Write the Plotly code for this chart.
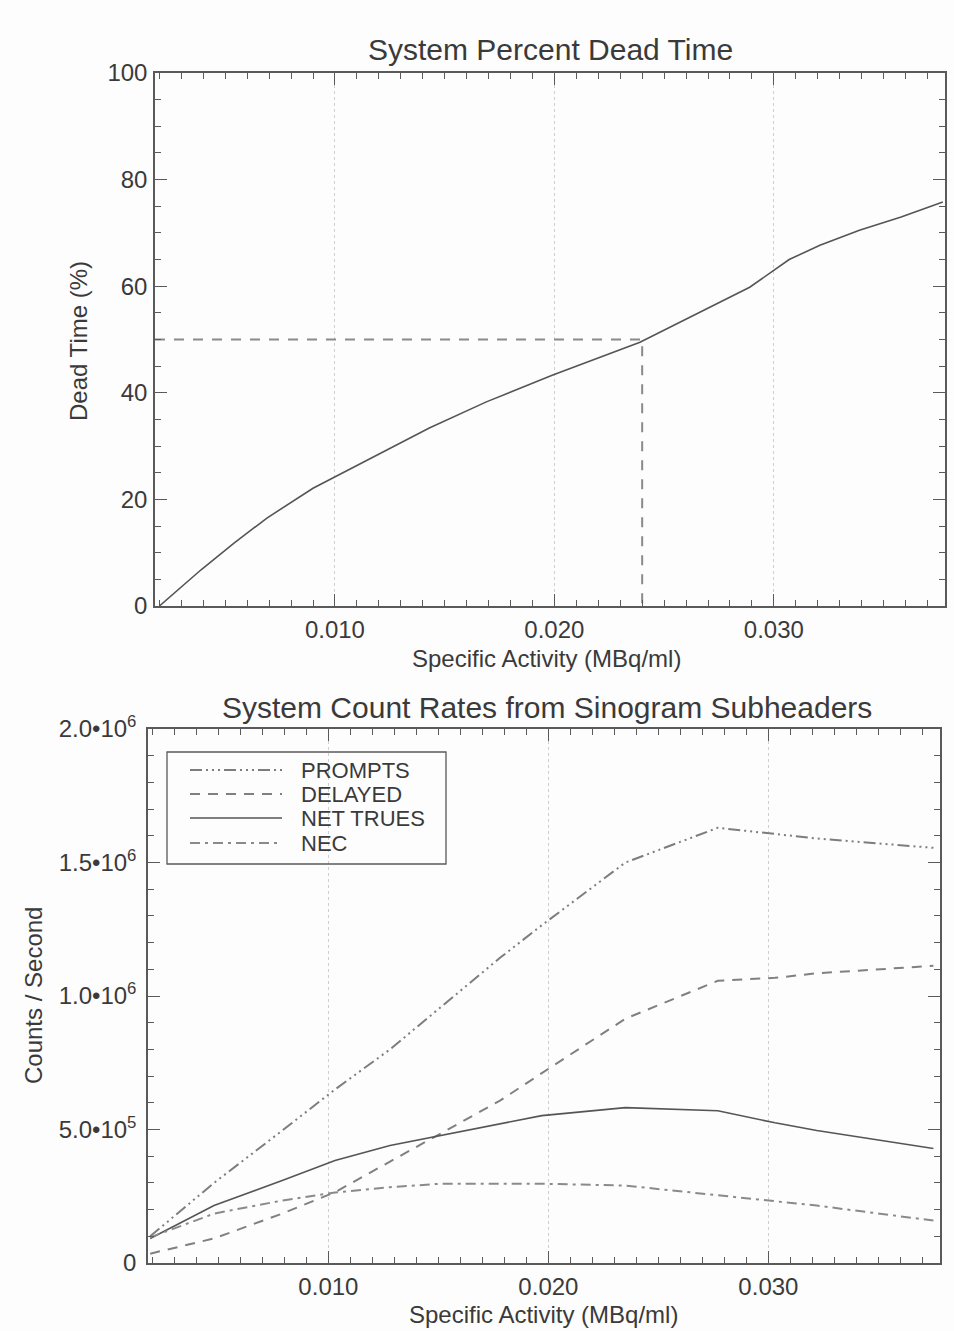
import plotly.graph_objects as go

W, H = 954, 1331

# ---------------- data ----------------
# Top panel: system percent dead time
dt_activity = [0.0020, 0.0039, 0.0054, 0.0069, 0.0090, 0.0112, 0.0121, 0.0143,
               0.0169, 0.0199, 0.0239, 0.0266, 0.0289, 0.0307, 0.0321, 0.0339,
               0.0358, 0.0377]
dt_percent = [0.0, 6.8, 11.8, 16.5, 22.1, 26.8, 28.7, 33.4,
              38.3, 43.3, 49.5, 55.0, 59.8, 65.0, 67.7, 70.5,
              73.0, 75.8]
dead_time_ref = 50
activity_at_ref = 0.024

# Bottom panel: count rates
activity = [0.0019, 0.0048, 0.0079, 0.0103, 0.0128, 0.0151, 0.0178,
            0.0197, 0.0235, 0.0277, 0.0303, 0.0322, 0.0375]
prompts = [100e3, 300e3, 496e3, 650e3, 800e3, 958e3, 1143e3,
           1265e3, 1500e3, 1630e3, 1607e3, 1590e3, 1555e3]
delayed = [35e3, 92e3, 185e3, 265e3, 380e3, 484e3, 608e3,
           711e3, 915e3, 1057e3, 1068e3, 1085e3, 1113e3]
net_trues = [92e3, 215e3, 309e3, 384e3, 440e3, 477e3, 521e3,
             552e3, 582e3, 570e3, 525e3, 496e3, 429e3]
nec = [96e3, 185e3, 234e3, 264e3, 284e3, 297e3, 297e3,
       297e3, 290e3, 253e3, 230e3, 215e3, 159e3]

series_names = ["PROMPTS", "DELAYED", "NET TRUES", "NEC"]

x_range = [0.0018, 0.0378]
x_ticks = [0.010, 0.020, 0.030]
x_tick_labels = ["0.010", "0.020", "0.030"]
dt_ticks = [0, 20, 40, 60, 80, 100]
dt_tick_labels = ["0", "20", "40", "60", "80", "100"]
rate_ticks = [0, 5e5, 1e6, 1.5e6, 2e6]
rate_tick_labels = ["0", "5.0•10<sup>5</sup>", "1.0•10<sup>6</sup>",
                    "1.5•10<sup>6</sup>", "2.0•10<sup>6</sup>"]

# ---------------- styling ----------------
FONT = "Liberation Sans, Arial, sans-serif"
TXT = "#3a3a3a"
AX = "#5a5a5a"

styles = {
    "PROMPTS": dict(color="#7d7d7d", width=2, dash="12px,4px,2px,4px,2px,4px,2px,4px"),
    "DELAYED": dict(color="#808080", width=2, dash="10px,8px"),
    "NET TRUES": dict(color="#555555", width=1.6, dash="solid"),
    "NEC": dict(color="#8a8a8a", width=2, dash="10px,5px,3px,5px"),
}


def fx(px):
    return px / W


def fy(py):
    return 1 - py / H


fig = go.Figure()

# top panel
fig.add_trace(go.Scatter(x=[x_range[0], activity_at_ref, activity_at_ref],
                         y=[dead_time_ref, dead_time_ref, 0],
                         mode="lines", xaxis="x", yaxis="y", showlegend=False,
                         line=dict(color="#8a8a8a", width=2, dash="10px,9px")))
fig.add_trace(go.Scatter(x=dt_activity, y=dt_percent, mode="lines",
                         xaxis="x", yaxis="y", showlegend=False,
                         line=dict(color="#555555", width=1.6)))

# bottom panel
for name, vals in zip(series_names, [prompts, delayed, net_trues, nec]):
    fig.add_trace(go.Scatter(x=activity, y=vals, mode="lines", name=name,
                             xaxis="x2", yaxis="y2", showlegend=False,
                             line=styles[name]))

common_x = dict(
    range=x_range, tickvals=x_ticks, ticktext=x_tick_labels,
    ticks="inside", ticklen=12, tickwidth=1.2, tickcolor=AX,
    showline=True, linecolor=AX, linewidth=1.5, mirror="ticks",
    showgrid=True, gridcolor="#cfcfcf", griddash="dot", gridwidth=1,
    zeroline=False, automargin=False,
    minor=dict(dtick=0.001, tick0=0, ticks="inside", ticklen=6,
               tickcolor=AX, tickwidth=1, showgrid=False),
    tickfont=dict(family=FONT, size=24, color=TXT),
    ticklabelstandoff=1,
)

top_dom_x = [fx(155), fx(945)]
top_dom_y = [fy(606), fy(73)]
bot_dom_x = [fx(148), fx(940)]
bot_dom_y = [fy(1263), fy(729)]

layout = dict(
    width=W, height=H,
    margin=dict(l=0, r=0, t=0, b=0, autoexpand=False),
    paper_bgcolor="#fdfdfd", plot_bgcolor="#fdfdfd",
    showlegend=False,
    xaxis=dict(common_x, domain=top_dom_x, anchor="y"),
    yaxis=dict(
        domain=top_dom_y, anchor="x", range=[0, 100],
        tickvals=dt_ticks, ticktext=dt_tick_labels,
        ticks="inside", ticklen=12, tickwidth=1.2, tickcolor=AX,
        showline=True, linecolor=AX, linewidth=1.5, mirror="ticks",
        showgrid=False, zeroline=False, automargin=False,
        minor=dict(dtick=5, tick0=0, ticks="inside", ticklen=6,
                   tickcolor=AX, tickwidth=1, showgrid=False),
        tickfont=dict(family=FONT, size=24, color=TXT),
        ticklabelstandoff=1,
    ),
    xaxis2=dict(common_x, domain=bot_dom_x, anchor="y2"),
    yaxis2=dict(
        domain=bot_dom_y, anchor="x2", range=[0, 2e6],
        tickvals=rate_ticks, ticktext=rate_tick_labels,
        ticks="inside", ticklen=12, tickwidth=1.2, tickcolor=AX,
        showline=True, linecolor=AX, linewidth=1.5, mirror="ticks",
        showgrid=False, zeroline=False, automargin=False,
        minor=dict(dtick=1e5, tick0=0, ticks="inside", ticklen=6,
                   tickcolor=AX, tickwidth=1, showgrid=False),
        tickfont=dict(family=FONT, size=24, color=TXT),
        ticklabelstandoff=5,
    ),
)
fig.update_layout(**layout)

ann = []


def add_text(text, x, y, size, angle=0, xanchor="center", yanchor="middle"):
    ann.append(dict(text=text, x=fx(x), y=fy(y), xref="paper", yref="paper",
                    showarrow=False, textangle=angle, xanchor=xanchor,
                    yanchor=yanchor,
                    font=dict(family=FONT, size=size, color=TXT)))


add_text("System Percent Dead Time", 550, 50, 30)
add_text("Specific Activity (MBq/ml)", 546, 658, 24)
add_text("Dead Time (%)", 78, 341, 24, angle=-90)
add_text("System Count Rates from Sinogram Subheaders", 547, 707, 30)
add_text("Specific Activity (MBq/ml)", 543, 1314, 24)
add_text("Counts / Second", 33, 996, 24, angle=-90)

# legend (drawn manually to mimic the original boxed key)
shapes = [dict(type="rect", xref="paper", yref="paper",
               x0=fx(167), x1=fx(446), y0=fy(864), y1=fy(752),
               line=dict(color=AX, width=1.3), fillcolor="rgba(0,0,0,0)")]
row_y = [770, 794, 818, 843]
for name, yy in zip(series_names, row_y):
    st = styles[name]
    shapes.append(dict(type="line", xref="paper", yref="paper",
                       x0=fx(190), x1=fx(282), y0=fy(yy), y1=fy(yy),
                       line=dict(color=st["color"], width=st["width"],
                                 dash=st["dash"])))
    add_text(name, 299, yy, 22, xanchor="left")

fig.update_layout(annotations=ann, shapes=shapes)

fig.write_html("out.html")
